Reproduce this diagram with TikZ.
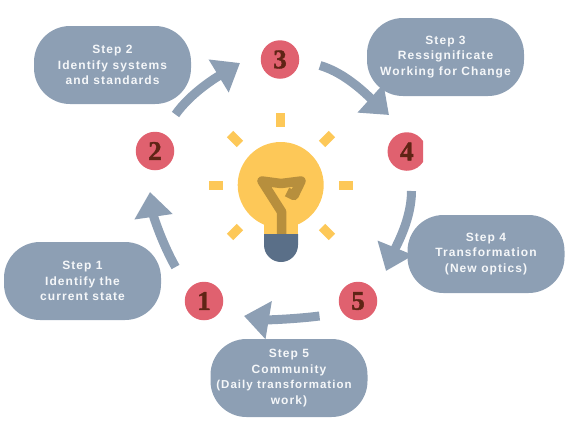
\documentclass[tikz,border=0pt]{standalone}
\usepackage{fontspec}
\usetikzlibrary{arrows.meta}
\newfontfamily\stepfont[LetterSpace=9,BoldFont={Liberation Sans Bold}]{Liberation Sans}
\newfontfamily\digitfont[BoldFont={Liberation Serif Bold},BoldFeatures={FakeBold=1.5}]{Liberation Serif}
\definecolor{pill}{HTML}{8D9FB4}
\definecolor{badge}{HTML}{E0616F}
\definecolor{digit}{HTML}{5F2415}
\definecolor{bulb}{HTML}{FDC858}
\definecolor{wire}{HTML}{B78F3D}
\definecolor{base}{HTML}{5A6F88}
\definecolor{steptext}{HTML}{F5F7F9}
\tikzset{
  x=1pt,y=-1pt,
  stepbox/.style={draw=none,fill=pill,rectangle,rounded corners=36pt,minimum width=157pt,minimum height=78pt,inner sep=0pt,
    text=steptext,align=center,font=\fontsize{12}{15.5}\selectfont\stepfont\bfseries},
  badgenode/.style={circle,fill=badge,minimum size=38.5pt,inner sep=0pt,text=digit,font=\fontsize{27}{27}\selectfont\digitfont\bfseries},
  flow/.style={draw=pill,line width=9pt,-{Triangle[length=25pt,width=37pt]}},
  ray/.style={fill=bulb,inner sep=0pt,rectangle}
}
\begin{document}
\begin{tikzpicture}
\useasboundingbox (0,0) rectangle (567,440);
% step boxes
\node[stepbox] (s1) at (82.5,281) {Step 1\\Identify the\\current state};
\node[stepbox] (s2) at (112.5,65) {Step 2\\Identify systems\\and standards};
\node[stepbox] (s3) at (445.5,57) {Step 3\\Ressignificate\\Working for Change};
\node[stepbox] (s4) at (486,254) {Step 4\\Transformation\\(New optics)};
\node[stepbox] (s5) at (289,378) {Step 5\\Community\\\hspace*{-10pt}{\fontsize{11.5}{15.5}\selectfont (Daily transformation}\\work)};
% badges
\node[badgenode] (b1) at (204,301) {1};
\node[badgenode] (b2) at (155,151) {2};
\node[badgenode] (b3) at (280,59.5) {3};
\begin{scope}
\clip (380,125) rectangle (423,178);
\node[badgenode] (b4) at (406.8,151.5) {4};
\end{scope}
\node[badgenode] (b5) at (358,301) {5};
% arrow ends
\coordinate (a12) at (175.5,267);
\coordinate (e12) at (150,192);
\coordinate (a23) at (175.5,114.5);
\coordinate (e23) at (240,63);
\coordinate (a34) at (320,65.5);
\coordinate (e34) at (389,115);
\coordinate (a45) at (411.5,191);
\coordinate (e45) at (386,271);
\coordinate (a51) at (319.5,316);
\coordinate (e51) at (244,316);
\draw[flow] (a12) .. controls (162.5,244) and (153.6,217) .. (e12);
\draw[flow] (a23) .. controls (191,92.5) and (217,77) .. (e23);
\draw[flow] (a34) .. controls (346,73) and (368,96) .. (e34);
\draw[flow] (a45) .. controls (411.5,219) and (396.6,245) .. (e45);
\draw[flow] (a51) .. controls (295.5,319) and (268,320) .. (e51);
% bulb
\fill[bulb] (280.7,185) circle[radius=43pt];
\fill[bulb] (264,205) rectangle (298,235);
\draw[wire,line width=9.5pt,line join=round,line cap=butt]
  (281.7,234) -- (281.7,212) -- (262,181) -- (281,183.5) -- (301,181) -- (294,195.5) -- (287,192);
\fill[base] (264,234) -- (298,234) -- (298,245) arc[start angle=0,end angle=180,radius=17pt,y radius=-17pt] -- cycle;
% rays
\node[ray,minimum width=9pt,minimum height=14pt] (r1) at (280.7,120) {};
\node[ray,minimum width=14pt,minimum height=9pt] (r2) at (216,185.5) {};
\node[ray,minimum width=14pt,minimum height=9pt] (r3) at (346,185.5) {};
\node[ray,minimum width=14pt,minimum height=9pt,rotate=45] (r4) at (327,139) {};
\node[ray,minimum width=14pt,minimum height=9pt,rotate=-45] (r5) at (235,139) {};
\node[ray,minimum width=14pt,minimum height=9pt,rotate=45] (r6) at (235,232) {};
\node[ray,minimum width=14pt,minimum height=9pt,rotate=-45] (r7) at (327,232) {};
\end{tikzpicture}
\end{document}
